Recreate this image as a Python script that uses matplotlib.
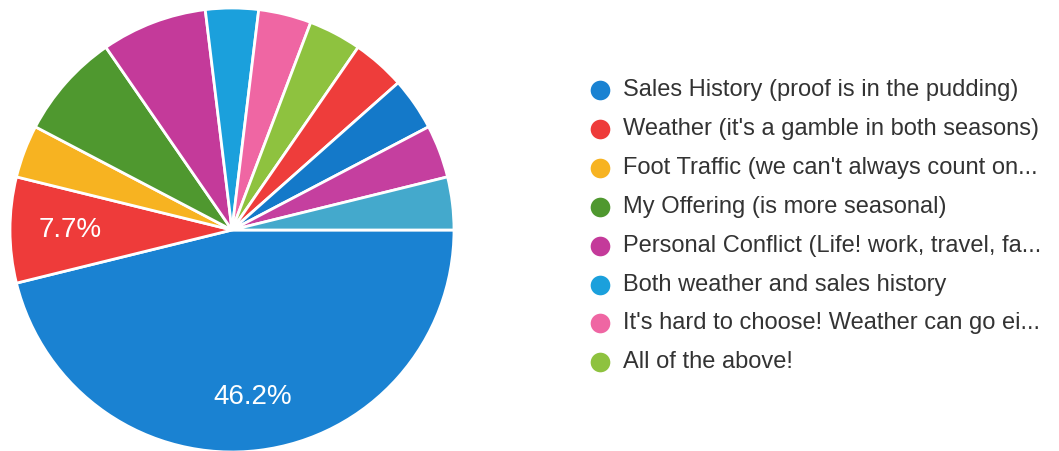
import matplotlib
matplotlib.use("Agg")
import matplotlib.pyplot as plt
import numpy as np

# survey answers: which factor drives seasonal ordering (26 responses)
categories = [
    "Sales History (proof is in the pudding)",
    "Weather (it's a gamble in both seasons)",
    "Foot Traffic (we can't always count on...",
    "My Offering (is more seasonal)",
    "Personal Conflict (Life! work, travel, fa...",
    "Both weather and sales history",
    "It's hard to choose! Weather can go ei...",
    "All of the above!",
    "Other answer 9",
    "Other answer 10",
    "Other answer 11",
    "Other answer 12",
]
responses = [12, 2, 1, 2, 2, 1, 1, 1, 1, 1, 1, 1]
colors = [
    "#1a82d2", "#ee3b3a", "#f7b321", "#4f982f", "#c43a9a", "#1ba0dc",
    "#ef66a3", "#8ec23f", "#ee3d3b", "#1479c9", "#c53f9f", "#44a9cc",
]
labelled = [0, 1]   # slices that carry a percentage
legend_count = 8    # only the first page of the legend is shown

W, H = 1059, 451
fig = plt.figure(figsize=(W / 100, H / 100), dpi=100)
plt.rcParams["font.family"] = ["Liberation Sans", "DejaVu Sans"]

# pie centred at (232, 230) px with radius 222 px
cx, cy, r = 232, 230, 222
ax = fig.add_axes([(cx - r) / W, (H - cy - r) / H, 2 * r / W, 2 * r / H])
total = sum(responses)

wedges, _ = ax.pie(
    responses,
    colors=colors,
    startangle=0,
    counterclock=False,
    radius=1,
    wedgeprops=dict(edgecolor="white", linewidth=2),
)
ax.set_xlim(-1, 1)
ax.set_ylim(-1, 1)

# percentage labels at the middle of each labelled slice
angle = 0.0
for i, v in enumerate(responses):
    span = 360.0 * v / total
    mid = np.deg2rad(-(angle + span / 2))
    if i in labelled:
        d = 0.76 if i == 0 else 0.73
        ax.text(d * np.cos(mid), d * np.sin(mid), f"{100.0 * v / total:.1f}%",
                ha="center", va="center", color="white", fontsize=20)
    angle += span

# legend drawn in pixel coordinates
lax = fig.add_axes([0, 0, 1, 1])
lax.set_xlim(0, W)
lax.set_ylim(H, 0)
lax.axis("off")
row_y = 90
step = 38.9
for i in range(legend_count):
    y = row_y + i * step
    lax.scatter([600], [y], s=200, color=colors[i], linewidths=0)
    lax.text(623, y, categories[i], ha="left", va="center",
             fontsize=17, color="#333333")

fig.savefig("out.png", dpi=100)
